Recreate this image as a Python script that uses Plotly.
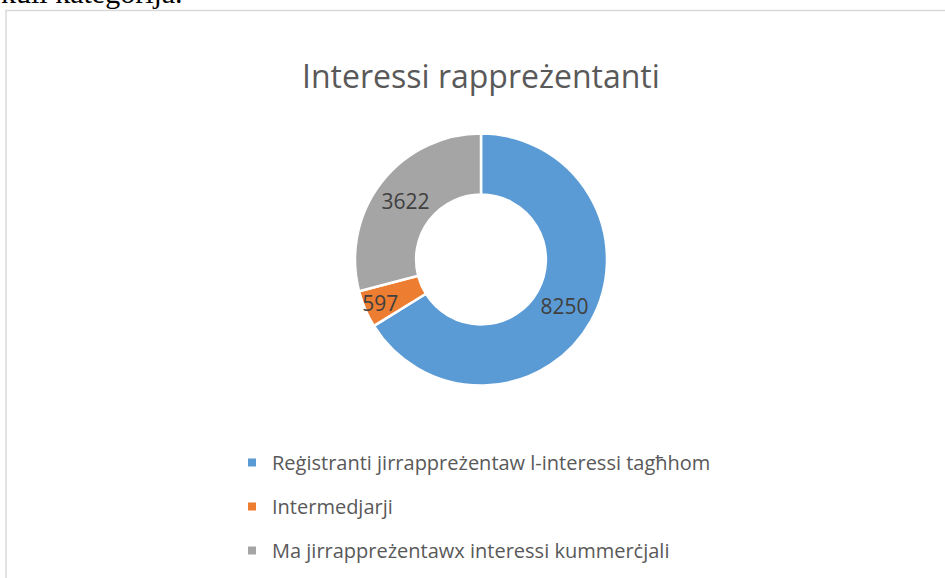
import plotly.graph_objects as go

labels = ["Reġistranti jirrappreżentaw l-interessi tagħhom", "Intermedjarji", "Ma jirrappreżentawx interessi kummerċjali"]
values = [8250, 597, 3622]
colors = ["#5B9BD5", "#ED7D31", "#A5A5A5"]
title = "Interessi rappreżentanti"

W, H = 945, 578
def px(x): return x / W
def py(y): return 1 - y / H

fig = go.Figure()
fig.add_trace(go.Pie(
    labels=labels, values=values, sort=False, direction="clockwise", rotation=0,
    hole=0.515, marker=dict(colors=colors, line=dict(color="white", width=2.5)),
    textinfo="value", textposition="inside", insidetextorientation="horizontal",
    textfont=dict(family="Open Sans", size=21, color="#404040"),
    domain=dict(x=[px(355), px(607)], y=[py(386), py(133)]),
    showlegend=False, hoverinfo="label+value",
))
for i, (lab, col) in enumerate(zip(labels, colors)):
    fig.add_trace(go.Scatter(
        x=[None], y=[None], mode="markers", name=lab, legendgroup=f"g{i}",
        marker=dict(symbol="square", size=8, color=col), showlegend=True,
    ))

fig.update_layout(
    width=W, height=H, margin=dict(l=0, r=0, t=0, b=0),
    paper_bgcolor="white", plot_bgcolor="white",
    uniformtext=dict(minsize=21, mode="show"),
    xaxis=dict(visible=False), yaxis=dict(visible=False),
    legend=dict(x=px(232), y=py(443), xanchor="left", yanchor="top",
                font=dict(family="Open Sans", size=20, color="#595959"),
                tracegroupgap=15, itemwidth=30, bgcolor="rgba(0,0,0,0)"),
    shapes=[dict(type="rect", xref="paper", yref="paper",
                 x0=px(6), x1=px(960), y0=py(600), y1=py(10.5),
                 line=dict(color="#D9D9D9", width=1.5), fillcolor="rgba(0,0,0,0)", layer="below")],
    annotations=[
        dict(text=title, x=px(481), y=py(52), xref="paper", yref="paper",
             showarrow=False, font=dict(family="Open Sans", size=32, color="#595959")),
        dict(text="kull kategorija.", x=px(-1), y=py(11), xref="paper", yref="paper",
             xanchor="left", yanchor="bottom", showarrow=False,
             font=dict(family="Liberation Serif", size=30, color="#000000")),
    ],
)
fig.write_html("out.html", config={"displayModeBar": False},
               post_script="document.body.style.margin='0';")
